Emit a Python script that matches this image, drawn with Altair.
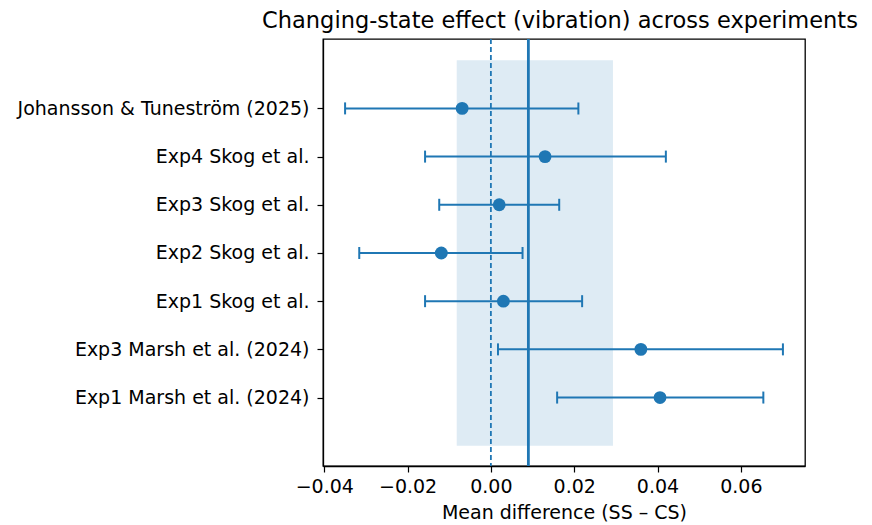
import altair as alt
import pandas as pd

studies = ["Exp1 Marsh et al. (2024)", "Exp3 Marsh et al. (2024)", "Exp1 Skog et al.",
           "Exp2 Skog et al.", "Exp3 Skog et al.", "Exp4 Skog et al.",
           "Johansson & Tuneström (2025)"]
means = [0.0406, 0.0360, 0.0030, -0.0119, 0.0020, 0.0130, -0.0069]
ci_lo = [0.0159, 0.0017, -0.0158, -0.0316, -0.0124, -0.0158, -0.0350]
ci_hi = [0.0654, 0.0701, 0.0219, 0.0076, 0.0164, 0.0420, 0.0210]
pooled = [0.0090]
pooled_ci = [-0.0082, 0.0293]
band_rows = [-1, 7]
x_ticks = [-0.04, -0.02, 0.0, 0.02, 0.04, 0.06]
x_domain = [-0.0403, 0.0754]
y_domain = [-1.42, 7.44]

BLUE = "#1f77b4"
FONT = "DejaVu Sans"

df = pd.DataFrame({"idx": list(range(len(studies))), "study": studies,
                   "mean": means, "lo": ci_lo, "hi": ci_hi})
band_df = pd.DataFrame({"x": [pooled_ci[0]], "x2": [pooled_ci[1]],
                        "y": [band_rows[0]], "y2": [band_rows[1]]})
zero_df = pd.DataFrame({"x": [0.0]})
pool_df = pd.DataFrame({"x": pooled})

label_expr = "[" + ",".join("'" + s + "'" for s in studies) + "][datum.value]"

xscale = alt.Scale(domain=x_domain, nice=False, zero=False)
yscale = alt.Scale(domain=y_domain, nice=False, zero=False)

xaxis = alt.Axis(values=x_ticks, title="Mean difference (SS – CS)",
                 labelExpr="replace(format(datum.value, '.2f'), '-', '−')",
                 labelPadding=5, titlePadding=7)
yaxis = alt.Axis(values=list(range(len(studies))), labelExpr=label_expr, title=None,
                 labelPadding=8, labelLimit=0)

band = alt.Chart(band_df).mark_rect(color=BLUE, opacity=0.15).encode(
    x=alt.X("x:Q", scale=xscale, axis=xaxis), x2="x2:Q",
    y=alt.Y("y:Q", scale=yscale, axis=yaxis), y2="y2:Q")

zero_line = alt.Chart(zero_df).mark_rule(color=BLUE, strokeWidth=1.8, strokeDash=[5, 3]).encode(
    x=alt.X("x:Q", scale=xscale))

pool_line = alt.Chart(pool_df).mark_rule(color=BLUE, strokeWidth=2.8).encode(
    x=alt.X("x:Q", scale=xscale))

bars = alt.Chart(df).mark_rule(color=BLUE, strokeWidth=2).encode(
    x=alt.X("lo:Q", scale=xscale), x2="hi:Q", y=alt.Y("idx:Q", scale=yscale))

cap_lo = alt.Chart(df).mark_tick(color=BLUE, orient="vertical", size=12, thickness=2, opacity=1).encode(
    x=alt.X("lo:Q", scale=xscale), y=alt.Y("idx:Q", scale=yscale))
cap_hi = alt.Chart(df).mark_tick(color=BLUE, orient="vertical", size=12, thickness=2, opacity=1).encode(
    x=alt.X("hi:Q", scale=xscale), y=alt.Y("idx:Q", scale=yscale))

points = alt.Chart(df).mark_circle(color=BLUE, size=165, opacity=1).encode(
    x=alt.X("mean:Q", scale=xscale), y=alt.Y("idx:Q", scale=yscale))

chart = alt.layer(band, zero_line, pool_line, bars, cap_lo, cap_hi, points).properties(
    width=482, height=427,
    title=alt.TitleParams("Changing-state effect (vibration) across experiments",
                          font=FONT, fontSize=22.5, fontWeight="normal", color="black",
                          anchor="middle", offset=5, dx=-4),
    padding={"left": 315, "top": 31, "right": 57, "bottom": 59},
    autosize="none",
).configure_view(stroke="black", strokeWidth=1.3).configure_axis(
    labelFont=FONT, labelFontSize=19, labelColor="black",
    titleFont=FONT, titleFontSize=19, titleFontWeight="normal", titleColor="black",
    tickColor="black", tickSize=6, tickWidth=1.2, domainColor="black", domainWidth=1.3,
    grid=False,
)

chart.save("out.html", embed_options={"renderer": "svg", "actions": False})
